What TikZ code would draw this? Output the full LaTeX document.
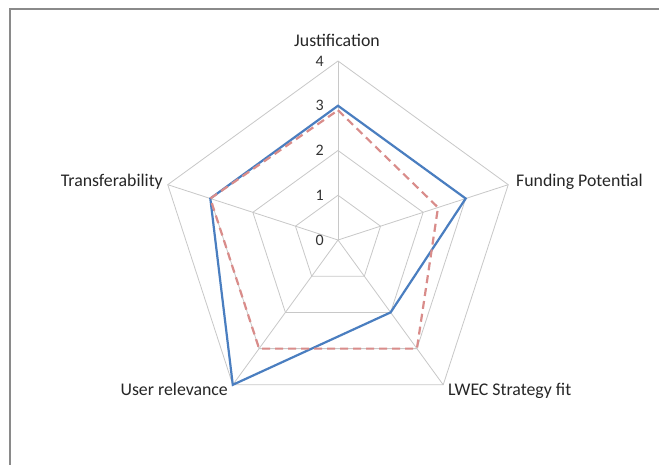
\documentclass[tikz,border=0pt]{standalone}
\usepackage{fontspec}
\usetikzlibrary{calc}
\setmainfont{Carlito}
\definecolor{gridgray}{HTML}{C8C8C8}
\definecolor{frame}{HTML}{8A8A8A}
\definecolor{serblue}{HTML}{4A7EC0}
\definecolor{serred}{HTML}{D98C8A}
\begin{document}
\begin{tikzpicture}[x=1pt,y=-1pt,
  grid/.style={draw=gridgray,line width=0.8pt},
  cat/.style={inner sep=0pt,font=\fontsize{17.8}{20}\selectfont,text=black!85},
  tick/.style={inner sep=0pt,anchor=east,font=\fontsize{16}{18}\selectfont,text=black!80},
  blueser/.style={draw=serblue,line width=2.2pt,line join=miter},
  redser/.style={draw=serred,line width=2.2pt,dash pattern=on 8pt off 5pt,line join=miter}]
\useasboundingbox (0,0) rectangle (659,465);
\fill[white] (0,0) rectangle (659,465);
% frame
\draw[frame,line width=1.6pt] (10,470) -- (10,9) -- (665,9);
% axes geometry
\def\R{44.75}
\coordinate (O) at (338,240);
\foreach \i/\a in {1/90,2/18,3/-54,4/-126,5/162}{
  \foreach \v in {1,2,3,4}{
    \coordinate (g\i-\v) at ($(O)+({\a}:{\v*\R} and {-\v*\R})$);
  }
}
% grid pentagons
\foreach \v in {1,2,3,4}{
  \draw[grid] (g1-\v) -- (g2-\v) -- (g3-\v) -- (g4-\v) -- (g5-\v) -- cycle;
}
\foreach \i in {1,...,5}{ \draw[grid] (O) -- (g\i-4); }
% series points
\coordinate (b1) at ($(O)+(90:{3*\R} and {-3*\R})$);
\coordinate (b2) at ($(O)+(18:{3*\R} and {-3*\R})$);
\coordinate (b3) at ($(O)+(-54:{2*\R} and {-2*\R})$);
\coordinate (b4) at ($(O)+(-126:{4*\R} and {-4*\R})$);
\coordinate (b5) at ($(O)+(162:{3*\R} and {-3*\R})$);
\coordinate (r1) at ($(O)+(90:{2.9*\R} and {-2.9*\R})$);
\coordinate (r2) at ($(O)+(18:{2.35*\R} and {-2.35*\R})$);
\coordinate (r3) at ($(O)+(-54:{3*\R} and {-3*\R})$);
\coordinate (r4) at ($(O)+(-126:{3*\R} and {-3*\R})$);
\coordinate (r5) at ($(O)+(162:{3*\R} and {-3*\R})$);
\draw[blueser] (b1) -- (b2) -- (b3) -- (b4) -- (b5) -- cycle;
\draw[redser] (r1) -- (r2) -- (r3) -- (r4) -- (r5) -- cycle;
% tick labels
\foreach \v in {0,1,2,3,4}{
  \node[tick] (t\v) at (324,{240-\v*\R}) {\v};
}
% category labels
\node[cat,anchor=base] (cJ) at (337,46.5) {Justification};
\node[cat,anchor=base west] (cF) at (516,187) {Funding Potential};
\node[cat,anchor=base west] (cL) at (448,395) {LWEC Strategy fit};
\node[cat,anchor=base east] (cU) at (228,395) {User relevance};
\node[cat,anchor=base east] (cT) at (163,187) {Transferability};
\end{tikzpicture}
\end{document}
